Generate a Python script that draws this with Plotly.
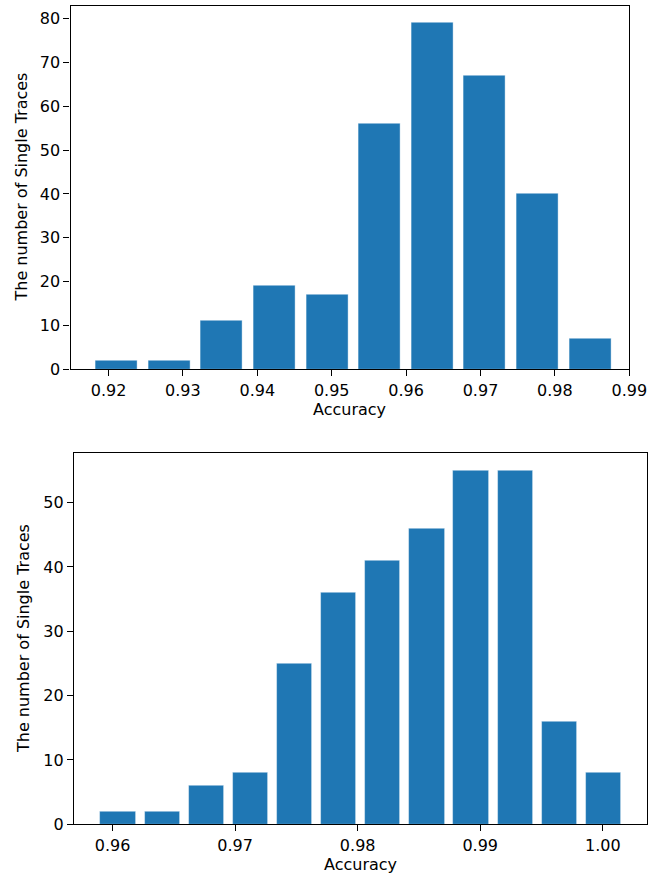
import plotly.graph_objects as go

# Histogram of accuracy per single trace, two experiments
top_centers = [0.92110 + i * 0.007071 for i in range(10)]
top_counts = [2, 2, 11, 19, 17, 56, 79, 67, 40, 7]
top_bin_width = 0.007071

bottom_centers = [0.96045 + i * 0.0036 for i in range(12)]
bottom_counts = [2, 2, 6, 8, 25, 36, 41, 46, 55, 55, 16, 8]
bottom_bin_width = 0.0036

top_ticks = [0.92, 0.93, 0.94, 0.95, 0.96, 0.97, 0.98, 0.99]
bottom_ticks = [0.96, 0.97, 0.98, 0.99, 1.00]

BLUE = "#1f77b4"
FONT = "DejaVu Sans"
FS = 16
W, H = 667, 879

fig = go.Figure()
fig.add_trace(go.Bar(
    x=top_centers, y=top_counts, width=[top_bin_width * 0.8] * len(top_counts),
    marker=dict(color=BLUE, line=dict(color="rgba(255,255,255,0.5)", width=0.8)),
    xaxis="x", yaxis="y", showlegend=False,
))
fig.add_trace(go.Bar(
    x=bottom_centers, y=bottom_counts, width=[bottom_bin_width * 0.8] * len(bottom_counts),
    marker=dict(color=BLUE, line=dict(color="rgba(255,255,255,0.5)", width=0.8)),
    xaxis="x2", yaxis="y2", showlegend=False,
))

axis_common = dict(
    showline=True, linecolor="black", linewidth=1.3, mirror=True,
    ticks="outside", ticklen=6, tickwidth=1.3, tickcolor="black",
    showgrid=False, zeroline=False, automargin=False,
    tickfont=dict(family=FONT, size=FS, color="black"),
)

# plot-area boxes in pixels: (left, top, right, bottom)
top_box = (70.5, 5.7, 629.3, 369.3)
bot_box = (74.0, 452.7, 647.0, 824.3)


def xdom(b):
    return [b[0] / W, b[2] / W]


def ydom(b):
    return [1 - b[3] / H, 1 - b[1] / H]


fig.update_layout(
    template="none",
    width=W, height=H,
    margin=dict(l=0, r=0, t=0, b=0),
    paper_bgcolor="white", plot_bgcolor="white",
    bargap=0,
    xaxis=dict(domain=xdom(top_box), range=[0.91489, 0.99],
               tickvals=top_ticks, tickformat=".2f", anchor="y", **axis_common),
    yaxis=dict(domain=ydom(top_box), range=[0, 82.95],
               tickvals=list(range(0, 81, 10)), anchor="x", **axis_common),
    xaxis2=dict(domain=xdom(bot_box), range=[0.95685, 1.00361],
                tickvals=bottom_ticks, tickformat=".2f", anchor="y2", **axis_common),
    yaxis2=dict(domain=ydom(bot_box), range=[0, 57.75],
                tickvals=list(range(0, 51, 10)), anchor="x2", **axis_common),
)

title_font = dict(family=FONT, size=FS, color="black")
# axis titles
for box, ytitle_x in ((top_box, 21.0), (bot_box, 23.5)):
    cx = (box[0] + box[2]) / 2
    cy = (box[1] + box[3]) / 2
    fig.add_annotation(text="Accuracy", x=cx / W, y=1 - (box[3] + 40.5) / H,
                       xref="paper", yref="paper", showarrow=False,
                       xanchor="center", yanchor="middle", font=title_font)
    fig.add_annotation(text="The number of Single Traces", x=ytitle_x / W, y=1 - cy / H,
                       xref="paper", yref="paper", showarrow=False, textangle=-90,
                       xanchor="center", yanchor="middle", font=title_font)

fig.write_html("out.html")
